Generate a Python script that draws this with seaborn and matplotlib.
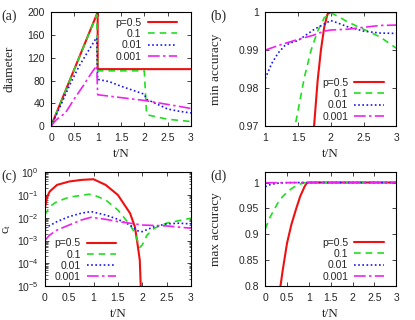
"""Four-panel figure: diameter, min/max accuracy and c_t versus t/N"""

import numpy as np
import pandas as pd
import matplotlib
matplotlib.use("Agg")
import matplotlib.pyplot as plt
import seaborn as sns

labels = ["p=0.5", "0.1", "0.01", "0.001"]
colors = ["#ee1111", "#22dd22", "#1818ee", "#ee22ee"]
styles = ["-", (0, (4, 3)), (0, (1, 1.5)), (0, (7, 2, 1.5, 2))]
widths = [1.5, 1.2, 1.2, 1.2]

# (a) diameter
a_t = [
    [0, 1.0, 1.0, 3.0],
    [0, 0.98, 1.0, 2.0, 2.05, 2.5, 3.0],
    [0, 0.2, 0.4, 0.6, 0.8, 0.95, 0.98, 1.0, 1.25, 1.5, 1.75, 2.0, 2.05, 2.5, 2.75, 3.0],
    [0, 0.1, 0.2, 0.3, 0.4, 0.5, 0.6, 0.7, 0.8, 0.9, 0.98, 1.0, 1.5, 2.0, 2.5, 3.0],
]
a_y = [
    [0, 200, 100, 100],
    [0, 195, 97, 97, 20, 12, 8],
    [0, 35, 72, 105, 132, 152, 155, 82, 78, 70, 63, 56, 47, 30, 26, 23],
    [0, 10, 17, 22, 35, 48, 60, 72, 85, 97, 106, 55, 50, 45, 38, 31],
]

# (b) min accuracy
b_t = [
    [1.7, 1.75, 1.8, 1.85, 1.9, 1.95, 2.0, 3.0],
    [1.4, 1.5, 1.6, 1.7, 1.8, 1.9, 2.0, 2.1, 2.25, 2.5, 2.75, 3.0],
    [1.0, 1.1, 1.2, 1.3, 1.4, 1.5, 1.75, 2.0, 2.1, 2.25, 2.5, 2.75, 3.0],
    [1.0, 1.25, 1.5, 1.75, 1.9, 2.0, 2.25, 2.5, 2.75, 3.0],
]
b_y = [
    [0.960, 0.971, 0.982, 0.990, 0.996, 0.9995, 1.0, 1.0],
    [0.965, 0.974, 0.983, 0.990, 0.995, 0.9985, 0.9998, 0.9990, 0.9975, 0.9955, 0.9935, 0.9905],
    [0.9825, 0.9865, 0.9893, 0.9912, 0.9920, 0.9925, 0.9955, 0.9978, 0.9972, 0.9962, 0.9950, 0.9945, 0.9944],
    [0.9900, 0.9915, 0.9928, 0.9940, 0.9950, 0.9953, 0.9955, 0.9960, 0.9965, 0.9966],
]

# (c) c_t, log10 values
c_t = [
    [0, 0.05, 0.1, 0.25, 0.5, 0.75, 1.0, 1.25, 1.5, 1.75, 1.85, 1.9, 1.95, 1.97, 1.99],
    [0, 0.1, 0.25, 0.5, 0.9, 1.0, 1.25, 1.5, 1.75, 1.85, 1.95, 2.0, 2.1, 2.25, 2.5, 2.75, 3.0],
    [0, 0.25, 0.5, 0.75, 0.95, 1.25, 1.5, 1.75, 1.9, 2.0, 2.25, 2.5, 2.75, 3.0],
    [0, 0.1, 0.25, 0.5, 0.75, 0.95, 1.25, 1.5, 1.75, 2.0, 2.5, 3.0],
]
c_log = [
    [-1.58, -1.07, -0.85, -0.56, -0.41, -0.34, -0.31, -0.56, -1.0, -1.8, -2.4, -3.1, -3.86, -5.0, -6.0],
    [-1.88, -1.51, -1.29, -1.1, -0.97, -1.0, -1.22, -1.66, -2.32, -2.68, -3.3, -3.2, -2.76, -2.46, -2.24, -2.13, -2.02],
    [-2.46, -2.17, -1.95, -1.8, -1.73, -1.88, -2.07, -2.32, -2.57, -2.61, -2.39, -2.27, -2.24, -2.27],
    [-3.0, -2.76, -2.54, -2.32, -2.1, -1.98, -2.07, -2.17, -2.24, -2.32, -2.36, -2.46],
]

# (d) max accuracy
d_t = [
    [0.3, 0.35, 0.4, 0.5, 0.6, 0.7, 0.8, 0.9, 0.95, 1.0, 3.0],
    [0, 0.1, 0.2, 0.3, 0.4, 0.5, 0.6, 0.7, 0.8, 0.9, 1.0, 3.0],
    [0, 0.1, 0.2, 0.3, 0.5, 1.0, 3.0],
    [0, 1.0, 3.0],
]
d_y = [
    [0.78, 0.80, 0.83, 0.883, 0.919, 0.947, 0.973, 0.992, 0.999, 1.0, 1.0],
    [0.91, 0.931, 0.947, 0.962, 0.973, 0.981, 0.988, 0.9935, 0.997, 0.9995, 1.0, 1.0],
    [0.992, 0.9955, 0.9975, 0.9988, 0.9997, 1.0, 1.0],
    [0.9995, 1.0, 1.0],
]

SERIF = ["Liberation Serif", "DejaVu Serif"]

sns.set_theme(style="ticks")
plt.rcParams["font.family"] = ["Liberation Sans", "DejaVu Sans"]
plt.rcParams["mathtext.fontset"] = "custom"
plt.rcParams["mathtext.rm"] = "Liberation Sans"
plt.rcParams["mathtext.sf"] = "Liberation Serif"
plt.rcParams["xtick.direction"] = "in"
plt.rcParams["ytick.direction"] = "in"
plt.rcParams["xtick.top"] = True
plt.rcParams["ytick.right"] = True
plt.rcParams["axes.linewidth"] = 0.8
plt.rcParams["axes.edgecolor"] = "black"

fig = plt.figure(figsize=(4.15, 3.2), dpi=100)
ax_a = fig.add_axes([0.123, 0.606, 0.337, 0.356])
ax_b = fig.add_axes([0.639, 0.606, 0.316, 0.356])
ax_c = fig.add_axes([0.108, 0.106, 0.352, 0.356])
ax_d = fig.add_axes([0.639, 0.106, 0.316, 0.356])


def draw(ax, ts, ys):
    for t, y, lab, col, ls, lw in zip(ts, ys, labels, colors, styles, widths):
        df = pd.DataFrame({"t": t, "y": y})
        sns.lineplot(data=df, x="t", y="y", ax=ax, color=col, linestyle=ls,
                     linewidth=lw, label=lab, estimator=None, sort=False)


def legend(ax, loc, anchor):
    ax.legend(loc=loc, bbox_to_anchor=anchor, frameon=False, markerfirst=False,
              handlelength=2.8, labelspacing=0.12, handletextpad=0.6,
              borderaxespad=0, borderpad=0, fontsize=7.5)


def style(ax, ylabel, ylab_x):
    ax.set_xlabel("t/N", fontsize=9.5, fontfamily=SERIF)
    ax.set_ylabel(ylabel, fontsize=9.5, fontfamily=SERIF)
    ax.xaxis.set_label_coords(0.5, -0.19)
    ax.yaxis.set_label_coords(ylab_x, 0.5)
    ax.tick_params(labelsize=7.5, length=3, width=0.6)
    ax.tick_params(axis="x", pad=5)
    ax.tick_params(axis="y", pad=4.5)
    ax.tick_params(which="minor", length=1.8, width=0.5)


xt = [0, 0.5, 1, 1.5, 2, 2.5, 3]
xt_lab = ["0", "0.5", "1", "1.5", "2", "2.5", "3"]

draw(ax_a, a_t, a_y)
ax_a.set_xlim(0, 3)
ax_a.set_ylim(0, 200)
ax_a.set_xticks(xt, xt_lab)
ax_a.set_yticks([0, 40, 80, 120, 160, 200])
style(ax_a, "diameter", -0.255)
legend(ax_a, "upper right", (0.9, 0.95))

draw(ax_b, b_t, b_y)
ax_b.set_xlim(1, 3)
ax_b.set_ylim(0.97, 1.0)
ax_b.set_xticks([1, 1.5, 2, 2.5, 3], ["1", "1.5", "2", "2.5", "3"])
ax_b.set_yticks([0.97, 0.98, 0.99, 1.0], ["0.97", "0.98", "0.99", "1"])
style(ax_b, "min accuracy", -0.33)
legend(ax_b, "lower right", (0.903, 0.04))

c_y = [list(10.0 ** np.array(v)) for v in c_log]
draw(ax_c, c_t, c_y)
ax_c.set_yscale("log")
ax_c.set_xlim(0, 3)
ax_c.set_ylim(1e-5, 1)
ax_c.set_xticks(xt, xt_lab)
ax_c.yaxis.set_major_locator(matplotlib.ticker.LogLocator(base=10, numticks=10))
ax_c.yaxis.set_minor_locator(matplotlib.ticker.LogLocator(base=10, subs=np.arange(2, 10), numticks=10))
ax_c.yaxis.set_minor_formatter(matplotlib.ticker.NullFormatter())
style(ax_c, r"$\mathsf{c_t}$", -0.22)
legend(ax_c, "lower left", (0.068, 0.035))

draw(ax_d, d_t, d_y)
ax_d.set_xlim(0, 3)
ax_d.set_ylim(0.8, 1.02)
ax_d.set_xticks(xt, xt_lab)
ax_d.set_yticks([0.8, 0.85, 0.9, 0.95, 1.0], ["0.8", "0.85", "0.9", "0.95", "1"])
style(ax_d, "max accuracy", -0.33)
legend(ax_d, "lower right", (0.903, 0.04))

for (x0, y0), lab in zip([(0.004, 0.971), (0.508, 0.971), (0.004, 0.471), (0.508, 0.471)],
                         ["(a)", "(b)", "(c)", "(d)"]):
    fig.text(x0, y0, lab, fontsize=10, fontfamily=SERIF, ha="left", va="top")

fig.savefig("out.png", dpi=100)
